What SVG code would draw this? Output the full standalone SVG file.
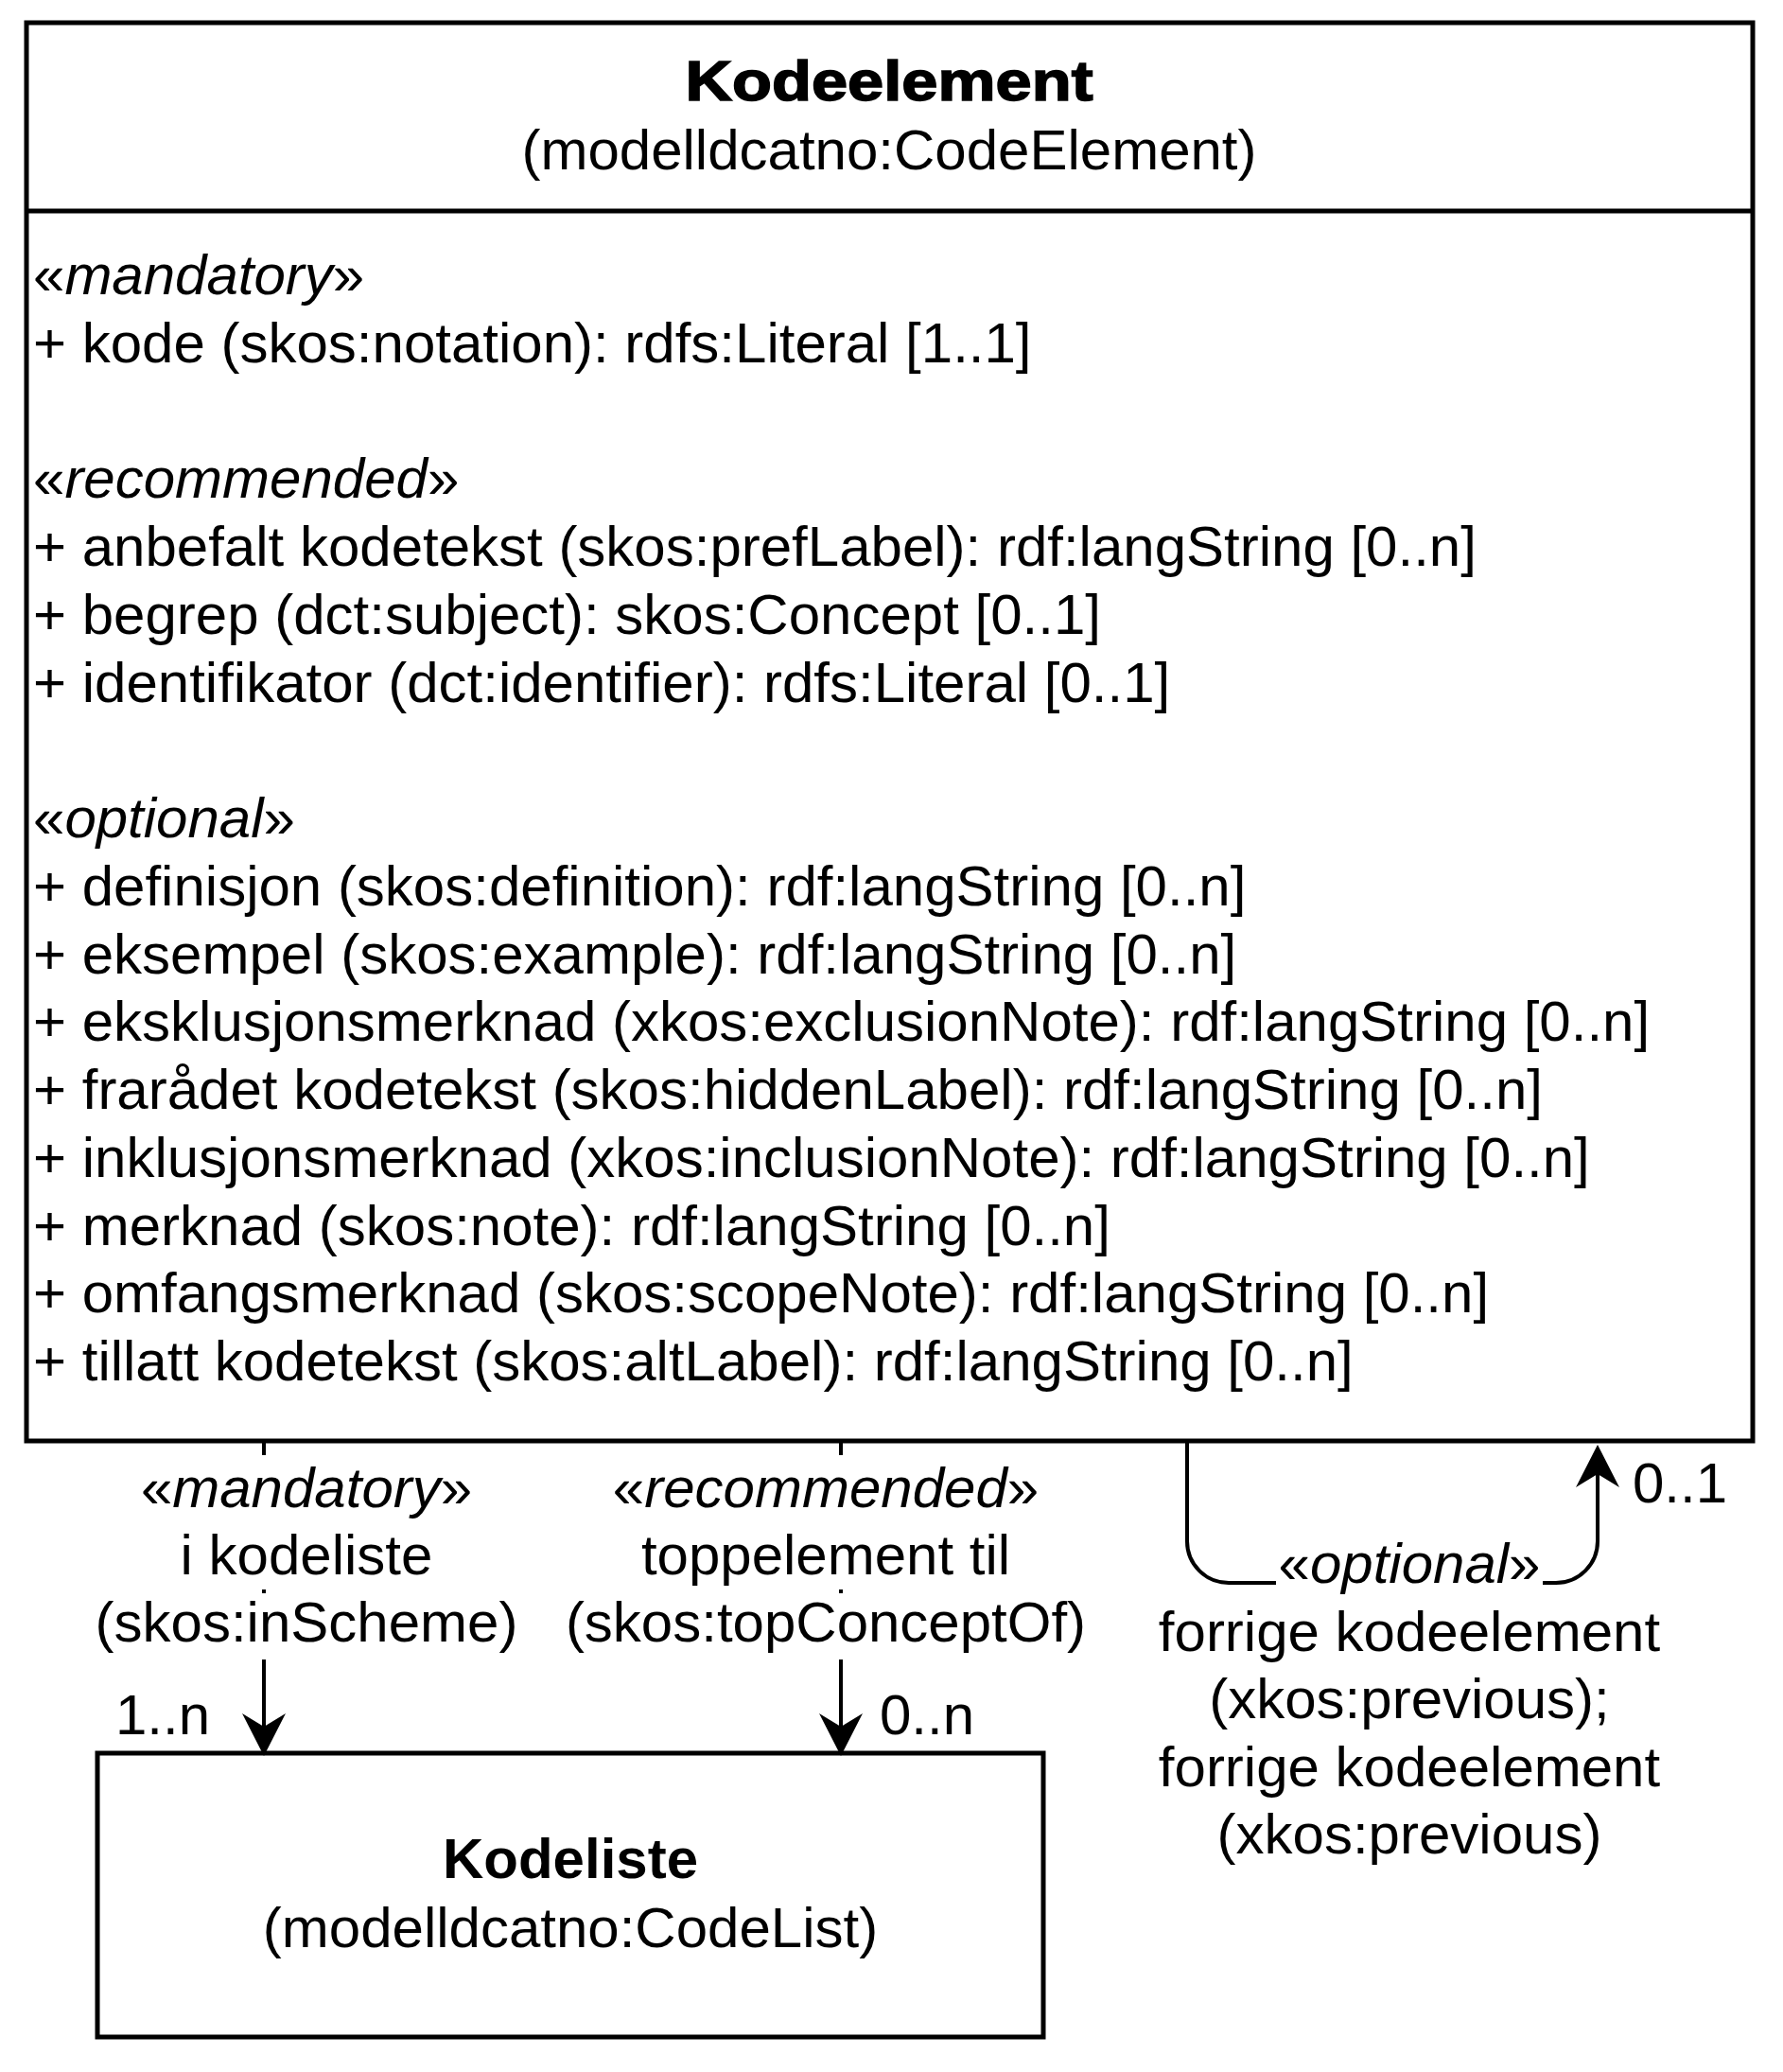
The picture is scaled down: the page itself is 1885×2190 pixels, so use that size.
<svg xmlns="http://www.w3.org/2000/svg" width="1885" height="2190" viewBox="0 0 1885 2190">
  <style>
    .t { font-family: "Liberation Sans", Arial, Helvetica, sans-serif; font-size: 60px; fill: #000; }
    .c { text-anchor: middle; }
    .b { font-weight: bold; }
    .i { font-style: italic; }
    .box { fill: #fff; stroke: #000; stroke-width: 5; }
    .sep { fill: none; stroke: #000; stroke-width: 5; }
    .edge { fill: none; stroke: #000; stroke-width: 4; }
    .bg { fill: #fff; stroke: none; }
  </style>
  <defs>
    <marker id="arrow" markerUnits="userSpaceOnUse" viewBox="-26 -24 47 48" refX="0" refY="0" markerWidth="47" markerHeight="48" orient="auto">
      <path d="M20,0 L-25,-23 L-11,0 L-25,23 Z" fill="#000" stroke="none"/>
    </marker>
  </defs>
  <rect width="1885" height="2190" fill="#fff"/>

  <g id="kodeelement">
    <rect class="box" x="28" y="24" width="1825" height="1499"/>
    <line class="sep" x1="28" y1="223" x2="1853" y2="223"/>
    <text class="t c b" x="940" y="106" textLength="431" lengthAdjust="spacingAndGlyphs" style="stroke:#000;stroke-width:1.6">Kodeelement</text>
    <text class="t c" x="940" y="179">(modelldcatno:CodeElement)</text>
    <text class="t" x="35" y="311">«<tspan class="i">mandatory</tspan>»</text>
    <text class="t" x="35" y="382.8">+ kode (skos:notation): rdfs:Literal [1..1]</text>
    <text class="t" x="35" y="526.3">«<tspan class="i">recommended</tspan>»</text>
    <text class="t" x="35" y="598">+ anbefalt kodetekst (skos:prefLabel): rdf:langString [0..n]</text>
    <text class="t" x="35" y="669.8">+ begrep (dct:subject): skos:Concept [0..1]</text>
    <text class="t" x="35" y="741.5">+ identifikator (dct:identifier): rdfs:Literal [0..1]</text>
    <text class="t" x="35" y="885">«<tspan class="i">optional</tspan>»</text>
    <text class="t" x="35" y="956.8">+ definisjon (skos:definition): rdf:langString [0..n]</text>
    <text class="t" x="35" y="1028.5">+ eksempel (skos:example): rdf:langString [0..n]</text>
    <text class="t" x="35" y="1100.3">+ eksklusjonsmerknad (xkos:exclusionNote): rdf:langString [0..n]</text>
    <text class="t" x="35" y="1172">+ frarådet kodetekst (skos:hiddenLabel): rdf:langString [0..n]</text>
    <text class="t" x="35" y="1243.8">+ inklusjonsmerknad (xkos:inclusionNote): rdf:langString [0..n]</text>
    <text class="t" x="35" y="1315.5">+ merknad (skos:note): rdf:langString [0..n]</text>
    <text class="t" x="35" y="1387.3">+ omfangsmerknad (skos:scopeNote): rdf:langString [0..n]</text>
    <text class="t" x="35" y="1459">+ tillatt kodetekst (skos:altLabel): rdf:langString [0..n]</text>
  </g>

  <g id="kodeliste">
    <rect class="box" x="103" y="1853" width="1000" height="300"/>
    <text class="t c b" x="603" y="1985">Kodeliste</text>
    <text class="t c" x="603" y="2058">(modelldcatno:CodeList)</text>
  </g>

  <g id="connectors">
    <!-- i kodeliste -->
    <path class="edge" d="M279,1523 V1836" marker-end="url(#arrow)"/>
    <rect class="bg" x="100" y="1538" width="450" height="142"/>
    <rect class="bg" x="100" y="1684" width="450" height="70"/>
    <text class="t c" x="324" y="1593">«<tspan class="i">mandatory</tspan>»</text>
    <text class="t c" x="324" y="1664">i kodeliste</text>
    <text class="t c" x="324" y="1735">(skos:inScheme)</text>
    <text class="t" x="122" y="1833">1..n</text>

    <!-- toppelement til -->
    <path class="edge" d="M889,1523 V1836" marker-end="url(#arrow)"/>
    <rect class="bg" x="595" y="1538" width="556" height="142"/>
    <rect class="bg" x="595" y="1684" width="556" height="70"/>
    <text class="t c" x="873" y="1593">«<tspan class="i">recommended</tspan>»</text>
    <text class="t c" x="873" y="1664">toppelement til</text>
    <text class="t c" x="873" y="1735">(skos:topConceptOf)</text>
    <text class="t" x="930" y="1833">0..n</text>

    <!-- forrige kodeelement (self loop) -->
    <path class="edge" d="M1255,1523 V1629 A44,44 0 0 0 1299,1673 H1645 A44,44 0 0 0 1689,1629 V1547" marker-end="url(#arrow)"/>
    <rect class="bg" x="1349" y="1620" width="282" height="70"/>
    <text class="t c" x="1490" y="1673">«<tspan class="i">optional</tspan>»</text>
    <text class="t c" x="1490" y="1744.5">forrige kodeelement</text>
    <text class="t c" x="1490" y="1816">(xkos:previous);</text>
    <text class="t c" x="1490" y="1887.5">forrige kodeelement</text>
    <text class="t c" x="1490" y="1959">(xkos:previous)</text>
    <text class="t" x="1726" y="1588">0..1</text>
  </g>
</svg>
